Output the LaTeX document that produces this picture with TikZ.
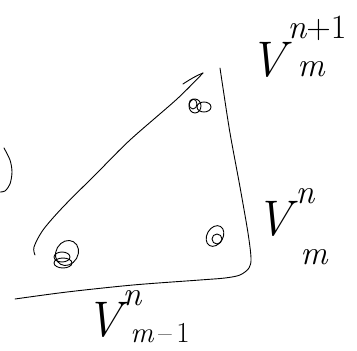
\documentclass[tikz,border=0pt]{standalone}
\begin{document}
\begin{tikzpicture}[x=1pt,y=-1pt,
  pen/.style={line width=0.9pt, line cap=round, line join=round},
  lbl/.style={inner sep=0pt, anchor=center},
  big/.style={lbl, font=\fontsize{50}{50}\selectfont\itshape},
  mid/.style={lbl, font=\fontsize{34}{34}\selectfont\itshape},
  sml/.style={lbl, font=\fontsize{29}{29}\selectfont\itshape}]
\useasboundingbox (0,0) rectangle (357,351);
\fill[white] (0,0) rectangle (357,351);
% left arc
\draw[pen] plot[smooth] coordinates {(4,148) (10,160) (12,172) (10,184) (5,191) (0,192)};
% hypotenuse
\draw[pen] plot[smooth] coordinates {(203,73) (177,99) (130,140) (97,173) (63,207) (43,230) (34,247) (35,255)};
\draw[pen] (183,84) .. controls (192,78) and (198,75) .. (203,73);
% right side and base
\draw[pen] plot[smooth] coordinates {(220,68) (223,88) (230,133) (240,187) (248,233) (251,258) (249,268) (240,275) (225,278) (200,280) (133,285) (67,292) (15,299)};
% scribbles
\draw[pen] (195,106) ellipse [x radius=6, y radius=7];
\draw[pen] (204,107) ellipse [x radius=7, y radius=5];
\draw[pen] (193,104) ellipse [x radius=4, y radius=5];
\draw[pen, rotate around={-30:(215,236)}] (215,236) ellipse [x radius=8, y radius=11];
\draw[pen] (217,239) ellipse [x radius=5, y radius=5];
\draw[pen, rotate around={-30:(67,253)}] (67,253) ellipse [x radius=11, y radius=13];
\draw[pen] (62,257) ellipse [x radius=8, y radius=5];
\draw[pen] (63,263) ellipse [x radius=9, y radius=5];
% labels
\node[big] (v1) at (268,60) {V};
\node[mid] (s1) at (317,28) {n\upshape+1};
\node[mid] (b1) at (311,69) {m};
\node[big] (v2) at (274,219) {V};
\node[mid] (s2) at (305,196) {n};
\node[mid] (b2) at (314,257) {m};
\node[big] (v3) at (104,320) {V};
\node[mid] (s3) at (132,298) {n};
\node[sml] (b3) at (160,333) {m\upshape\,--\,1};
\end{tikzpicture}
\end{document}
